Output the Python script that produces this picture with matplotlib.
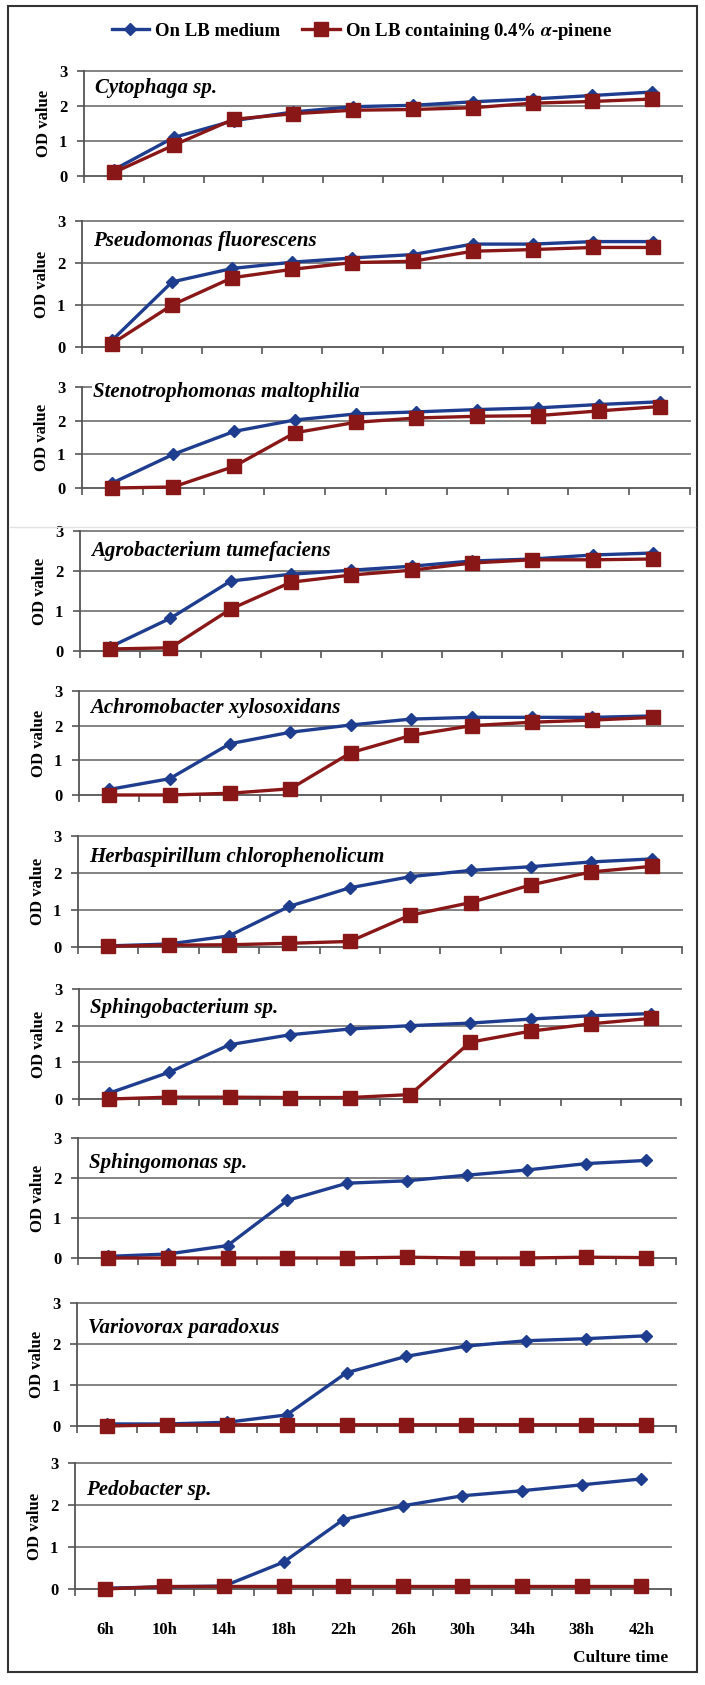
import matplotlib
matplotlib.use('Agg')
import matplotlib.pyplot as plt
from matplotlib.patches import Rectangle
from matplotlib.lines import Line2D

plt.rcParams['font.family'] = ['Liberation Serif', 'DejaVu Serif']
plt.rcParams['font.weight'] = 'bold'
plt.rcParams['mathtext.fontset'] = 'stix'

# culture time points
times = ['6h', '10h', '14h', '18h', '22h', '26h', '30h', '34h', '38h', '42h']

species = [
    'Cytophaga sp.',
    'Pseudomonas fluorescens',
    'Stenotrophomonas maltophilia',
    'Agrobacterium tumefaciens',
    'Achromobacter xylosoxidans',
    'Herbaspirillum chlorophenolicum',
    'Sphingobacterium sp.',
    'Sphingomonas sp.',
    'Variovorax paradoxus',
    'Pedobacter sp.',
]

# OD on LB medium
od_lb = [
    [0.18, 1.10, 1.58, 1.83, 1.98, 2.02, 2.12, 2.20, 2.30, 2.40],
    [0.16, 1.55, 1.87, 2.02, 2.12, 2.20, 2.45, 2.45, 2.51, 2.51],
    [0.15, 1.00, 1.68, 2.02, 2.20, 2.26, 2.33, 2.38, 2.48, 2.56],
    [0.10, 0.82, 1.75, 1.92, 2.02, 2.12, 2.25, 2.30, 2.40, 2.45],
    [0.16, 0.47, 1.48, 1.81, 2.02, 2.19, 2.24, 2.24, 2.24, 2.28],
    [0.03, 0.08, 0.30, 1.10, 1.60, 1.90, 2.07, 2.17, 2.30, 2.38],
    [0.16, 0.73, 1.48, 1.75, 1.91, 2.00, 2.07, 2.18, 2.27, 2.33],
    [0.04, 0.10, 0.31, 1.44, 1.87, 1.93, 2.07, 2.20, 2.36, 2.44],
    [0.05, 0.05, 0.09, 0.27, 1.30, 1.70, 1.95, 2.08, 2.13, 2.20],
    [0.02, 0.05, 0.07, 0.64, 1.65, 1.98, 2.22, 2.34, 2.48, 2.62],
]

# OD on LB + 0.4% alpha-pinene
od_pinene = [
    [0.10, 0.88, 1.62, 1.78, 1.88, 1.90, 1.95, 2.08, 2.13, 2.20],
    [0.08, 1.00, 1.65, 1.85, 2.01, 2.04, 2.28, 2.32, 2.37, 2.37],
    [0.00, 0.03, 0.64, 1.64, 1.95, 2.08, 2.13, 2.15, 2.29, 2.42],
    [0.05, 0.08, 1.05, 1.72, 1.90, 2.02, 2.20, 2.28, 2.28, 2.30],
    [0.00, 0.00, 0.05, 0.18, 1.22, 1.72, 2.00, 2.10, 2.16, 2.24],
    [0.02, 0.05, 0.06, 0.10, 0.15, 0.86, 1.20, 1.68, 2.03, 2.18],
    [0.00, 0.05, 0.05, 0.04, 0.04, 0.12, 1.55, 1.85, 2.05, 2.20],
    [0.00, 0.00, 0.00, 0.00, 0.00, 0.02, 0.00, 0.00, 0.02, 0.01],
    [0.00, 0.03, 0.03, 0.03, 0.03, 0.03, 0.03, 0.03, 0.03, 0.03],
    [0.00, 0.06, 0.06, 0.06, 0.06, 0.06, 0.06, 0.06, 0.06, 0.06],
]

name_y = [2.5, 2.52, 2.86, 2.5, 2.52, 2.43, 2.48, 2.38, 2.39, 2.36]

# layout in pixels (figure is 705 x 1685)
W, H = 705, 1685
panel_top = [71, 221, 387, 531, 691, 836, 989, 1138, 1303, 1463]
panel_bot = [176, 347, 488, 651, 795, 947, 1099, 1258, 1426, 1589]
panel_left = [84, 82, 82, 80, 79, 78, 79, 78, 77, 75]
panel_right = [682, 683, 690, 683, 683, 682, 681, 676, 676, 671]

blue = '#1e3d8f'
red = '#8a1717'
grid_c = '#7a7a7a'
axis_c = '#555555'

fig = plt.figure(figsize=(W / 100, H / 100), dpi=100)

x = list(range(len(times)))
for i in range(len(species)):
    ax = fig.add_axes([panel_left[i] / W, 1 - panel_bot[i] / H,
                       (panel_right[i] - panel_left[i]) / W,
                       (panel_bot[i] - panel_top[i]) / H])
    ax.plot(x, od_lb[i], '-D', color=blue, lw=2.4, ms=6.5, zorder=3, clip_on=False)
    ax.plot(x, od_pinene[i], '-s', color=red, lw=2.4, ms=10, zorder=4, clip_on=False)
    ax.set_xlim(-0.5, len(times) - 0.5)
    ax.set_ylim(0, 3)
    for v in [1, 2, 3]:
        ax.axhline(v, color=grid_c, lw=1.3, zorder=1, clip_on=False)
    ax.set_yticks([0, 1, 2, 3])
    ax.set_xticks([k - 0.5 for k in range(len(times) + 1)])
    ax.set_xticklabels([])
    ax.tick_params(axis='y', direction='out', length=5, width=1.2, color=axis_c,
                   labelsize=12, pad=7)
    ax.tick_params(axis='x', direction='out', length=5, width=1.2, color=axis_c)
    for lab in ax.get_yticklabels():
        lab.set_fontweight('bold')
    for s in ['top', 'right']:
        ax.spines[s].set_visible(False)
    for s in ['left', 'bottom']:
        ax.spines[s].set_color(axis_c)
        ax.spines[s].set_linewidth(1.3)
    ax.set_ylabel('OD value', fontsize=12, fontweight='bold', labelpad=5)
    ax.text(0.018, name_y[i], species[i], transform=ax.get_yaxis_transform(),
            fontsize=15, fontstyle='italic', fontweight='bold', va='center',
            ha='left', zorder=5,
            bbox=dict(facecolor='white', edgecolor='none', pad=0.5))
    if i == len(species) - 1:
        ax.set_xticks(x, minor=True)
        ax.set_xticklabels(times, minor=True, fontsize=12, fontweight='bold')
        ax.tick_params(axis='x', which='minor', length=0, pad=24)

fig.text(668 / W, 1 - 1658 / H, 'Culture time', ha='right', va='center',
         fontsize=12.5, fontweight='bold')

# legend
handles = [
    Line2D([], [], color=blue, lw=2.4, marker='D', ms=6.5),
    Line2D([], [], color=red, lw=2.4, marker='s', ms=10),
]
labels = ['On LB medium', 'On LB containing 0.4% $\\alpha$-pinene']
fig.legend(handles, labels, loc='center', bbox_to_anchor=(362 / W, 1 - 31 / H),
           ncol=2, frameon=False, handlelength=2.0,
           handletextpad=0.3, columnspacing=1.2,
           prop={'family': 'Liberation Serif', 'weight': 'bold', 'size': 13.5})

# separator and outer frame
fig.add_artist(Line2D([10 / W, 695 / W], [1 - 527 / H, 1 - 527 / H],
                      color='#e2e2e2', lw=1.0))
fig.add_artist(Rectangle((8 / W, 1 - 1672 / H), 689 / W, 1666 / H,
                         fill=False, edgecolor='#333333', lw=1.5))

fig.savefig('out.png', dpi=100)
